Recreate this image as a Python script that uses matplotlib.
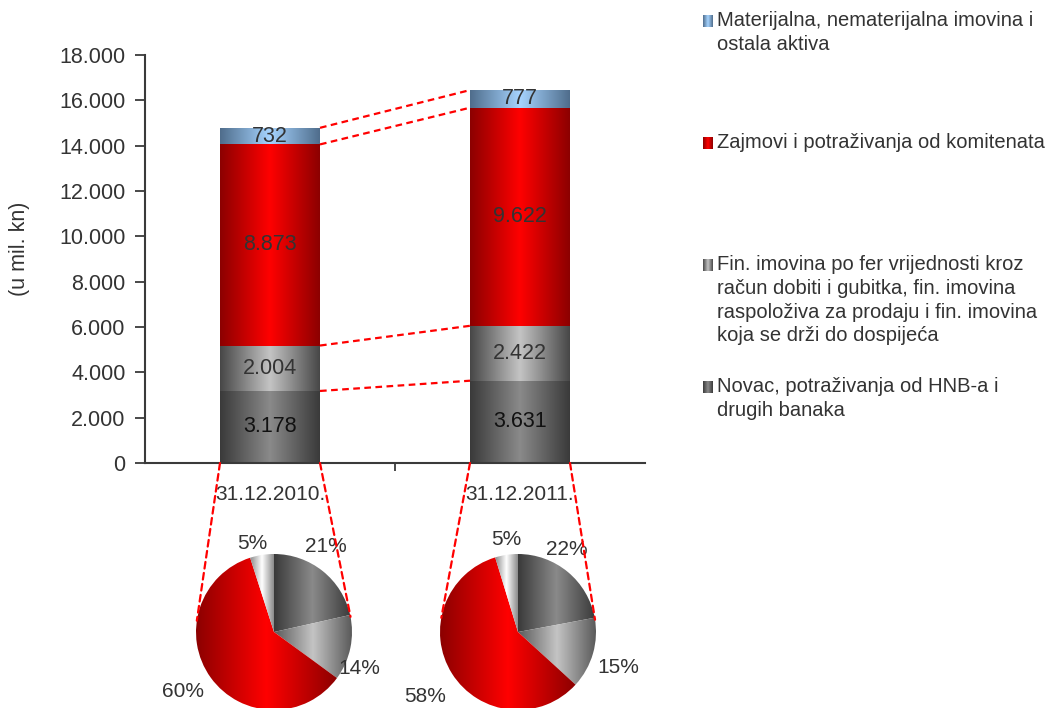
import numpy as np
import matplotlib.pyplot as plt
from matplotlib.colors import LinearSegmentedColormap
from matplotlib.patches import ConnectionPatch

plt.rcParams['font.family'] = ['Liberation Sans', 'DejaVu Sans']

dates = ['31.12.2010.', '31.12.2011.']
series = ['Novac, potraživanja od HNB-a i\ndrugih banaka',
          'Fin. imovina po fer vrijednosti kroz\nračun dobiti i gubitka, fin. imovina\nraspoloživa za prodaju i fin. imovina\nkoja se drži do dospijeća',
          'Zajmovi i potraživanja od komitenata',
          'Materijalna, nematerijalna imovina i\nostala aktiva']
novac = [3178, 3631]
fin = [2004, 2422]
zajmovi = [8873, 9622]
materijalna = [732, 777]
values = [novac, fin, zajmovi, materijalna]

# (edge, middle) colours of the horizontal gradients
bar_grad = [('#3a3a3a', '#8a8a8a'), ('#474747', '#c4c4c4'),
            ('#8c0000', '#ff0000'), ('#4f6d8c', '#a6d4ff')]
pie_grad = [('#3a3a3a', '#8a8a8a'), ('#5a5a5a', '#c4c4c4'),
            ('#8c0000', '#ff0000'), ('#8a8a8a', '#ffffff')]
text_col = '#333333'
axis_col = '#3a3a3a'

# where the percentage labels sit, in pie radius units (Excel "outside end")
pct_pos = [[(0.67, 1.10), (1.09, -0.47), (-1.17, -0.76), (-0.28, 1.14)],
           [(0.62, 1.06), (1.29, -0.45), (-1.19, -0.83), (-0.15, 1.18)]]


def gradient(c_edge, c_mid, n=256):
    cmap = LinearSegmentedColormap.from_list('g', [c_edge, c_mid, c_edge])
    x = np.linspace(0, 1, n)
    return cmap(x)[np.newaxis, :, :]


def fill_gradient(ax, patch, c_edge, c_mid, extent):
    patch.set_facecolor('none')
    patch.set_edgecolor('none')
    im = ax.imshow(gradient(c_edge, c_mid), extent=extent, aspect='auto',
                   interpolation='bilinear', zorder=patch.get_zorder())
    im.set_clip_path(patch)


W, H = 1050, 708
fig = plt.figure(figsize=(W / 100, H / 100), dpi=100)

# ---- stacked bars
ax = fig.add_axes([145 / W, (H - 463) / H, 500 / W, 408 / H])
x = np.arange(len(dates))
bottom = np.zeros(len(dates))
tops = []
for vals, (ce, cm) in zip(values, bar_grad):
    bars = ax.bar(x, vals, 0.4, bottom=bottom)
    for r in bars:
        fill_gradient(ax, r, ce, cm,
                      [r.get_x(), r.get_x() + r.get_width(), r.get_y(), r.get_y() + r.get_height()])
    for xi, v, b in zip(x, vals, bottom):
        ax.text(xi, b + v / 2, f'{v:,}'.replace(',', '.'), ha='center', va='center',
                fontsize=15.5, color='#111111' if vals is novac else text_col, zorder=5)
    bottom = bottom + np.array(vals)
    tops.append(bottom.copy())

for t in tops:
    ax.plot([0.2, 0.8], [t[0], t[1]], color='red', lw=1.6, ls=(0, (3, 2)), zorder=4)

ax.set_xlim(-0.5, 1.5)
ax.set_ylim(0, 18000)
ax.set_yticks(np.arange(0, 18001, 2000))
ax.set_yticklabels(['0'] + [f'{v:,}'.replace(',', '.') for v in range(2000, 18001, 2000)])
ax.set_xticks(x)
ax.set_xticklabels(dates)
ax.set_xticks([0.5], minor=True)
ax.tick_params(axis='x', which='major', length=0, pad=16, labelsize=15, labelcolor=text_col)
ax.tick_params(axis='x', which='minor', length=6, width=1.3, color=axis_col)
ax.tick_params(axis='y', length=7, width=1.3, color=axis_col, pad=7, labelsize=15.5, labelcolor=text_col)
for s in ['top', 'right']:
    ax.spines[s].set_visible(False)
for s in ['left', 'bottom']:
    ax.spines[s].set_color(axis_col)
    ax.spines[s].set_linewidth(1.5)
fig.text(20 / W, 1 - 249 / H, '(u mil. kn)', rotation=90, ha='center', va='center',
         fontsize=15.5, color=text_col)

# ---- pies
R = 78
pie_centres = [274, 518]
for i, cx in enumerate(pie_centres):
    pax = fig.add_axes([(cx - R) / W, (H - 632 - R) / H, 2 * R / W, 2 * R / H])
    share = [v[i] for v in values]
    wedges, _ = pax.pie(share, startangle=90, counterclock=False, radius=1)
    for w, (ce, cm) in zip(wedges, pie_grad):
        w.set_zorder(1)
        th = np.deg2rad(np.linspace(w.theta1, w.theta2, 100))
        xs = np.r_[0, np.cos(th)]
        fill_gradient(pax, w, ce, cm, [xs.min(), xs.max(), -1, 1])
    for s, (px, py) in zip(share, pct_pos[i]):
        pax.text(px, py, f'{100 * s / sum(share):.0f}%', ha='center', va='center',
                 fontsize=15, color=text_col)
    pax.set_xlim(-1, 1)
    pax.set_ylim(-1, 1)
    pax.axis('off')

    # dashed tangent lines from bar base corners to the pie
    c_disp = pax.transData.transform((0, 0))
    r_disp = pax.transData.transform((1, 0))[0] - c_disp[0]
    for xb, side in [(x[i] - 0.2, 1), (x[i] + 0.2, -1)]:
        p = ax.transData.transform((xb, 0))
        d = p - c_disp
        phi = np.arctan2(d[1], d[0])
        a = phi + side * np.arccos(r_disp / np.hypot(*d))
        con = ConnectionPatch(xyA=(xb, 0), coordsA=ax.transData,
                              xyB=(np.cos(a), np.sin(a)), coordsB=pax.transData,
                              color='red', lw=1.6, ls=(0, (3, 2)), zorder=10)
        fig.add_artist(con)

# ---- legend
lax = fig.add_axes([0, 0, 1, 1])
lax.set_xlim(0, W)
lax.set_ylim(H, 0)
lax.axis('off')
leg_y = [387, 265, 143, 21]
for name, (ce, cm), y in zip(series, bar_grad, leg_y):
    lax.imshow(gradient(ce, cm), extent=[703, 713, y + 6, y - 6], aspect='auto',
               interpolation='bilinear')
    for k, line in enumerate(name.split('\n')):
        lax.text(717, y + 23.5 * k, line, ha='left', va='center', fontsize=14.5, color=text_col)
lax.set_xlim(0, W)
lax.set_ylim(H, 0)

fig.savefig('out.png', dpi=100)
